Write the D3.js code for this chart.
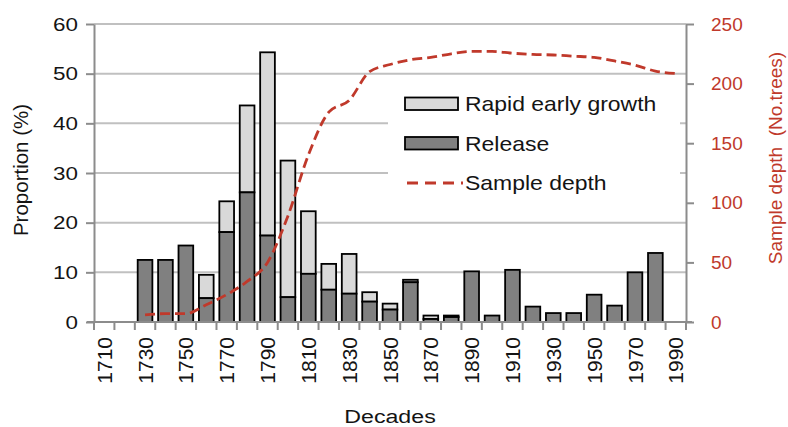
<!DOCTYPE html>
<html>
<head>
<meta charset="utf-8">
<script src="https://cdn.jsdelivr.net/npm/d3@7"></script>
<style>
  html, body { margin: 0; padding: 0; background: #fff; }
  svg { display: block; font-family: "Liberation Sans", Arial, sans-serif; }
</style>
</head>
<body>
<svg id="chart" width="788" height="427"></svg>
<script>
// ---- data ----
const decades = [1710, 1720, 1730, 1740, 1750, 1760, 1770, 1780, 1790, 1800,
                 1810, 1820, 1830, 1840, 1850, 1860, 1870, 1880, 1890, 1900,
                 1910, 1920, 1930, 1940, 1950, 1960, 1970, 1980, 1990];
const release = [0, 0, 12.5, 12.5, 15.4, 4.8, 18.1, 26.1, 17.4, 5.0,
                 9.7, 6.5, 5.7, 4.1, 2.5, 8.0, 0.6, 1.0, 10.2, 1.3,
                 10.5, 3.1, 1.8, 1.8, 5.5, 3.3, 10.0, 13.9, 0];
const rapidEarlyGrowth = [0, 0, 0, 0, 0, 4.7, 6.2, 17.5, 36.9, 27.5,
                 12.6, 5.2, 8.0, 1.9, 1.2, 0.5, 0.7, 0.3, 0, 0,
                 0, 0, 0, 0, 0, 0, 0, 0, 0];
const sampleDepth = [null, null, 6, 7, 7, 14.5, 23, 34, 50, 89,
                 140, 176, 186, 210, 216, 220, 222, 225, 227, 227,
                 225.5, 224.5, 224, 223, 222, 219, 215.5, 210.5, 208.5];
const leftTicks = [0, 10, 20, 30, 40, 50, 60];
const rightTicks = [0, 50, 100, 150, 200, 250];
const xLabelDecades = [1710, 1730, 1750, 1770, 1790, 1810, 1830, 1850, 1870, 1890, 1910, 1930, 1950, 1970, 1990];
const seriesNames = ["Rapid early growth", "Release", "Sample depth"];

// ---- layout ----
const svg = d3.select("#chart");
const plot = { left: 94, right: 686, top: 24, bottom: 322 };
const axisColor = "#8c8c8c", gridColor = "#c0c0c0", red = "#c0392b", ink = "#141414";
const FONT = "Liberation Sans, Arial, sans-serif";

const x = d3.scaleBand().domain(decades).range([plot.left, plot.right])
  .paddingInner(0.28).paddingOuter(0.14);
const yL = d3.scaleLinear().domain([0, 60]).range([plot.bottom, plot.top]);
const yR = d3.scaleLinear().domain([0, 250]).range([plot.bottom, plot.top]);
const step = x.step();

// gridlines
svg.append("g").selectAll("line").data(leftTicks.filter(d => d > 0)).join("line")
  .attr("x1", plot.left).attr("x2", plot.right)
  .attr("y1", d => yL(d)).attr("y2", d => yL(d))
  .attr("stroke", gridColor).attr("stroke-width", 2);

// bars
const rows = decades.map((d, i) => ({ d, rel: release[i], rap: rapidEarlyGrowth[i] }));
const barG = svg.append("g");
rows.filter(r => r.rel + r.rap > 0).forEach(r => {
  if (r.rap > 0) {
    barG.append("rect")
      .attr("x", x(r.d)).attr("width", x.bandwidth())
      .attr("y", yL(r.rel + r.rap)).attr("height", yL(r.rel) - yL(r.rel + r.rap))
      .attr("fill", "#d9d9d9").attr("stroke", "#000").attr("stroke-width", 1.8);
  }
  if (r.rel > 0) {
    barG.append("rect")
      .attr("x", x(r.d)).attr("width", x.bandwidth())
      .attr("y", yL(r.rel)).attr("height", yL(0) - yL(r.rel))
      .attr("fill", "#808080").attr("stroke", "#000").attr("stroke-width", 1.8);
  }
});

// left axis
const leftAxis = svg.append("g").attr("transform", `translate(${plot.left},0)`)
  .call(d3.axisLeft(yL).tickValues(leftTicks).tickSize(8).tickPadding(8).tickSizeOuter(0));
leftAxis.select(".domain").attr("stroke", axisColor).attr("stroke-width", 2);
leftAxis.selectAll(".tick line").attr("stroke", axisColor).attr("stroke-width", 2);
const sxL = 1.18;
leftAxis.selectAll(".tick text").attr("font-size", 19).attr("fill", ink)
  .attr("font-family", FONT)
  .attr("x", -16 / sxL).attr("transform", `scale(${sxL},1)`);

// right axis
const rightAxis = svg.append("g").attr("transform", `translate(${plot.right},0)`)
  .call(d3.axisRight(yR).tickValues(rightTicks).tickSize(8).tickPadding(17).tickSizeOuter(0));
rightAxis.select(".domain").attr("stroke", axisColor).attr("stroke-width", 2);
rightAxis.selectAll(".tick line").attr("stroke", axisColor).attr("stroke-width", 2);
rightAxis.selectAll(".tick text").attr("font-size", 19).attr("fill", red)
  .attr("font-family", FONT);

// bottom axis line + boundary ticks
const bottomG = svg.append("g");
bottomG.append("line").attr("x1", plot.left - 7).attr("x2", plot.right + 6)
  .attr("y1", plot.bottom).attr("y2", plot.bottom)
  .attr("stroke", axisColor).attr("stroke-width", 2);
const boundaries = decades.map(d => x(d) - (step - x.bandwidth()) / 2).concat([plot.right]);
bottomG.selectAll("line.tk").data(boundaries).join("line").attr("class", "tk")
  .attr("x1", d => d).attr("x2", d => d)
  .attr("y1", plot.bottom).attr("y2", plot.bottom + 8)
  .attr("stroke", axisColor).attr("stroke-width", 2);

// bottom labels via d3 axis (no tick lines)
const xAxisG = svg.append("g").attr("transform", `translate(0,${plot.bottom})`)
  .call(d3.axisBottom(x).tickValues(xLabelDecades).tickSize(0).tickFormat(d => String(d)));
xAxisG.select(".domain").remove();
xAxisG.selectAll(".tick text")
  .attr("font-size", 21).attr("fill", ink)
  .attr("font-family", FONT)
  .attr("text-anchor", "end")
  .attr("transform", "rotate(-90)")
  .attr("x", -15).attr("y", 0).attr("dy", "0.36em");

// sample depth line
const lineData = decades.map((d, i) => ({ d, v: sampleDepth[i] })).filter(p => p.v !== null);
const line = d3.line()
  .x(p => x(p.d) + x.bandwidth() / 2)
  .y(p => yR(p.v))
  .curve(d3.curveMonotoneX);
svg.append("path").datum(lineData).attr("d", line)
  .attr("fill", "none").attr("stroke", red).attr("stroke-width", 2.8)
  .attr("stroke-dasharray", "10,5");

// legend
const lg = svg.append("g");
lg.append("rect").attr("x", 388).attr("y", 79).attr("width", 292).attr("height", 138)
  .attr("fill", "#fff");
lg.append("rect").attr("x", 405).attr("y", 97.5).attr("width", 53).attr("height", 12.5)
  .attr("fill", "#d9d9d9").attr("stroke", "#000").attr("stroke-width", 1.8);
lg.append("rect").attr("x", 405).attr("y", 137).attr("width", 53).attr("height", 12.5)
  .attr("fill", "#808080").attr("stroke", "#000").attr("stroke-width", 1.8);
lg.append("line").attr("x1", 407).attr("x2", 463).attr("y1", 183).attr("y2", 183)
  .attr("stroke", red).attr("stroke-width", 2.8).attr("stroke-dasharray", "11,7");
const lgY = [104, 143.5, 183];
lg.selectAll("text").data(seriesNames).join("text")
  .attr("transform", (d, i) => `translate(465,${lgY[i]}) scale(1.12,1)`)
  .attr("dy", "0.36em")
  .attr("font-size", 20.5).attr("fill", ink).text(d => d);

// axis titles
svg.append("text").attr("transform", "translate(28,170) rotate(-90)")
  .attr("text-anchor", "middle").attr("font-size", 20.5).attr("fill", ink)
  .text("Proportion (%)");
svg.append("text").attr("transform", "translate(782,158) rotate(-90)")
  .attr("text-anchor", "middle").attr("font-size", 19).attr("fill", red)
  .attr("xml:space", "preserve").style("white-space", "pre")
  .text("Sample depth  (No.trees)");
svg.append("text").attr("transform", `translate(${(plot.left + plot.right) / 2},423) scale(1.22,1)`)
  .attr("text-anchor", "middle").attr("font-size", 19).attr("fill", ink)
  .text("Decades");
</script>
</body>
</html>
